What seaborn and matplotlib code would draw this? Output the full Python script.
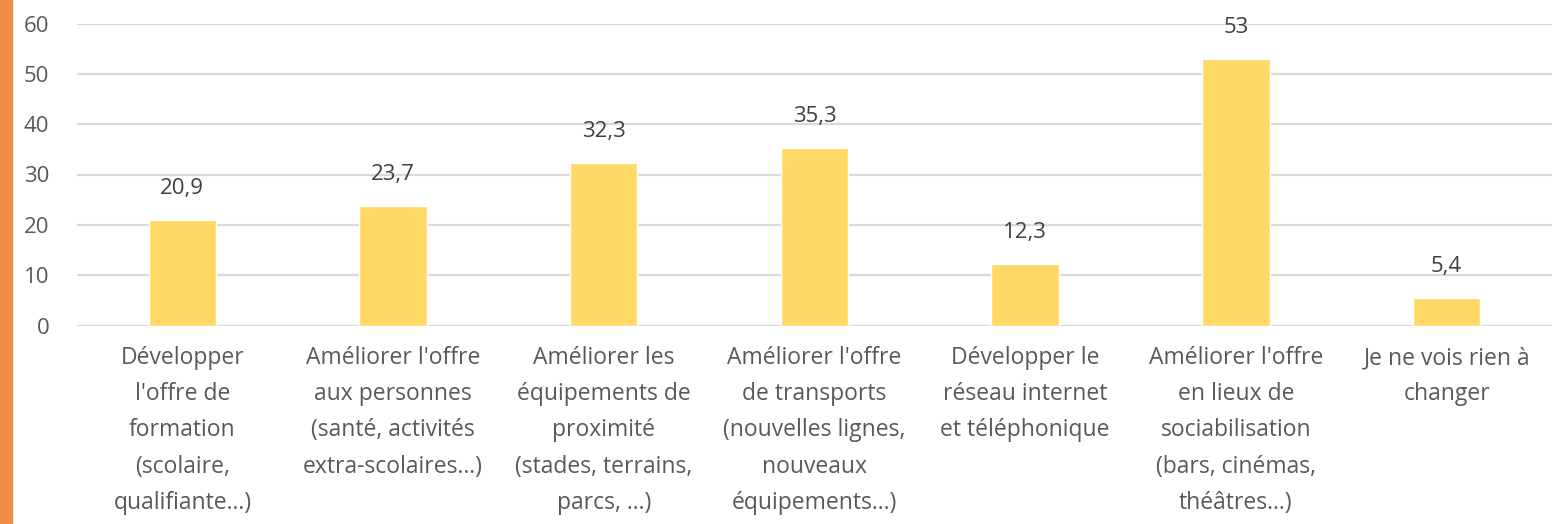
import matplotlib
matplotlib.use("Agg")
import matplotlib.pyplot as plt
import seaborn as sns
import pandas as pd
from matplotlib.patches import Rectangle

categories = [
    "Développer\nl'offre de\nformation\n(scolaire,\nqualifiante...)",
    "Améliorer l'offre\naux personnes\n(santé, activités\nextra-scolaires...)",
    "Améliorer les\néquipements de\nproximité\n(stades, terrains,\nparcs, ...)",
    "Améliorer l'offre\nde transports\n(nouvelles lignes,\nnouveaux\néquipements...)",
    "Développer le\nréseau internet\net téléphonique",
    "Améliorer l'offre\nen lieux de\nsociabilisation\n(bars, cinémas,\nthéâtres...)",
    "Je ne vois rien à\nchanger",
]
values = [20.9, 23.7, 32.3, 35.3, 12.3, 53, 5.4]
value_labels = ["20,9", "23,7", "32,3", "35,3", "12,3", "53", "5,4"]
yticks = [0, 10, 20, 30, 40, 50, 60]

sns.set_theme(style="white")
plt.rcParams["font.family"] = ["Open Sans", "DejaVu Sans"]

TEXT = "#595959"
fig = plt.figure(figsize=(15.67, 5.24), dpi=100)
fig.patches.append(Rectangle((0, 0), 12 / 1567, 1, transform=fig.transFigure,
                             color="#F08C46", zorder=0))
ax = fig.add_axes([77 / 1567, 1 - 325.5 / 524, (1552 - 77) / 1567, (325.5 - 23.5) / 524])

df = pd.DataFrame({"cat": categories, "val": values})
sns.barplot(data=df, x="cat", y="val", color="#FFD966", saturation=1, width=0.32,
            ax=ax, zorder=3)

ax.set_ylim(0, 60)
ax.set_yticks(yticks)
ax.set_yticklabels([str(t) for t in yticks])
ax.yaxis.grid(True, color="#D9D9D9", linewidth=1.6, zorder=0)
ax.set_axisbelow(True)
for s in ax.spines.values():
    s.set_visible(False)
ax.set_xlabel("")
ax.set_ylabel("")
ax.tick_params(axis="y", length=0, pad=20, labelsize=16, labelcolor=TEXT)
ax.tick_params(axis="x", length=0, pad=15, labelsize=16.5, labelcolor=TEXT)
for lab in ax.get_xticklabels():
    lab.set_linespacing(1.67)

for p, lbl in zip(ax.patches, value_labels):
    ax.annotate(lbl, (p.get_x() + p.get_width() / 2, p.get_height()),
                xytext=(0, 15), textcoords="offset points", ha="center", va="bottom",
                fontsize=16, color="#404040")

fig.savefig("out.png", dpi=100)
